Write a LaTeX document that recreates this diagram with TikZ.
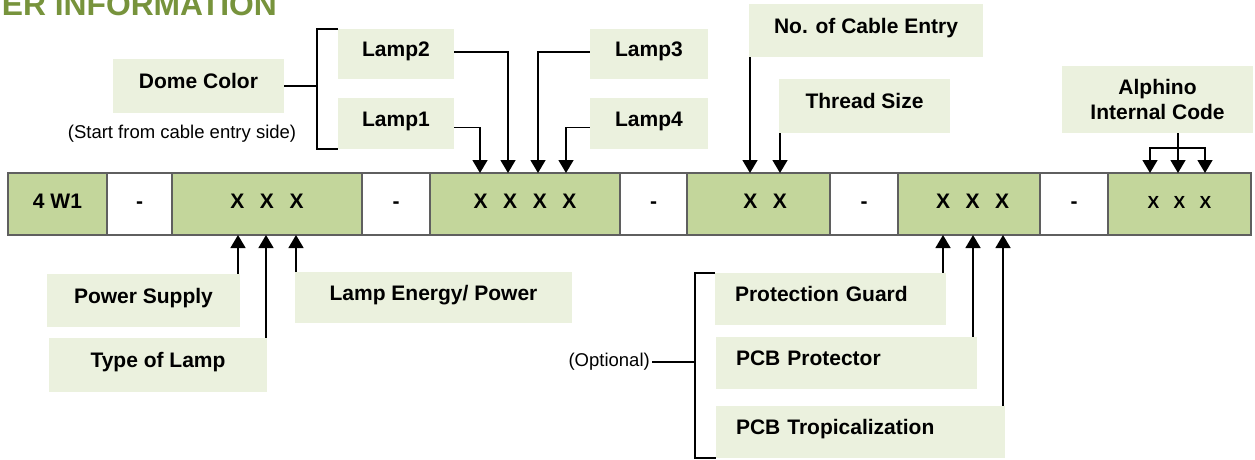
\documentclass[tikz,border=0pt]{standalone}
\usepackage{fontspec}
\setmainfont{Liberation Sans}
\usetikzlibrary{arrows.meta}

\definecolor{cellgreen}{RGB}{195,214,155}
\definecolor{boxgreen}{RGB}{235,241,222}
\definecolor{framegray}{RGB}{95,95,95}
\definecolor{titlegreen}{RGB}{119,147,60}
\newcommand{\lblfont}{\fontsize{21}{25}\selectfont\bfseries}
\newcommand{\notefont}{\fontsize{18.5}{22}\selectfont}
\newcommand{\cellfont}{\fontsize{21}{25}\selectfont\bfseries}
\newcommand{\xgap}{\hspace{15.5pt}}

\begin{document}
\begin{tikzpicture}[x=1pt,y=-1pt,
  cell/.style={draw=framegray,line width=2pt,fill=cellgreen,minimum height=62pt,inner sep=0pt,text height=15pt,text depth=7pt,font=\cellfont},
  sepcell/.style={cell,fill=white},
  lbl/.style={fill=boxgreen,inner sep=0pt,text height=15pt,text depth=10pt,font=\lblfont},
  lblleft/.style={lbl,align=left,inner xsep=20pt},
  note/.style={inner sep=0pt,font=\notefont},
  link/.style={line width=1.5pt},
  arr/.style={link,-{Triangle[width=15pt,length=13pt]}}]
  \clip (0,0) rectangle (1255,459); % 画像の範囲
  \node[anchor=base east,inner sep=0pt,text=titlegreen,font=\fontsize{31.8}{36}\selectfont\bfseries] (title) at (277,15) {ER INFORMATION}; % 見出し（上端が切れている）

  % 型番の帯
  \node[cell,minimum width=99pt] (c1) at (57.5,204) {4 W1};
  \node[sepcell,minimum width=65pt] (c2) at (139.5,204) {-};
  \node[cell,minimum width=190pt] (c3) at (267,204) {X\xgap X\xgap X};
  \node[sepcell,minimum width=68pt] (c4) at (396,204) {-};
  \node[cell,minimum width=190pt] (c5) at (525,204) {X\xgap X\xgap X\xgap X};
  \node[sepcell,minimum width=67pt] (c6) at (653.5,204) {-};
  \node[cell,minimum width=143pt] (c7) at (758.5,204) {\hspace{13pt}X\xgap X};
  \node[sepcell,minimum width=68pt] (c8) at (864,204) {-};
  \node[cell,minimum width=142pt] (c9) at (969,204) {\hspace{7pt}X\xgap X\xgap X};
  \node[sepcell,minimum width=68pt] (c10) at (1074,204) {-};
  \node[cell,minimum width=143pt,font=\fontsize{17.5}{21}\selectfont\bfseries] (c11) at (1179.5,204) {X\hspace{14.3pt}X\hspace{14.3pt}X};

  % 上側の説明
  \node[lbl,minimum width=171pt,minimum height=54pt] (dome) at (198.5,86) {Dome Color};
  \node[note] (side) at (182,134) {(Start from cable entry side)};
  \node[lbl,minimum width=116pt,minimum height=50pt] (lamp2) at (396,54) {Lamp2};
  \node[lbl,minimum width=116pt,minimum height=51pt] (lamp1) at (396,123.5) {Lamp1};
  \node[lbl,minimum width=118pt,minimum height=50pt] (lamp3) at (649,54) {Lamp3};
  \node[lbl,minimum width=118pt,minimum height=51pt] (lamp4) at (649,123.5) {Lamp4};
  \node[lbl,minimum width=234pt,minimum height=53pt] (cable) at (866,30.5) {No. of Cable Entry};
  \node[lbl,minimum width=171pt,minimum height=54pt] (thread) at (864.5,106) {Thread Size};
  \node[fill=boxgreen,inner sep=0pt,font=\lblfont,align=center,minimum width=191pt,minimum height=67pt] (alph) at (1157.5,99.5) {Alphino\\Internal Code};

  % 下側の説明
  \node[lbl,minimum width=193pt,minimum height=53pt] (supply) at (143.5,300.5) {Power Supply};
  \node[lbl,minimum width=218pt,minimum height=54pt] (ltype) at (158,365) {Type of Lamp};
  \node[lbl,minimum width=277pt,minimum height=51pt] (energy) at (433.5,297.5) {Lamp Energy/ Power};
  \node[lblleft,text width=191pt,minimum height=52pt] (guard) at (830.5,299) {Protection Guard};
  \node[lblleft,text width=221pt,minimum height=52pt] (pcbp) at (846.5,363) {PCB Protector};
  \node[lblleft,text width=249pt,minimum height=52pt] (pcbt) at (860.5,432) {PCB Tropicalization};
  \node[note,anchor=east,inner xsep=2pt] (opt) at (652,362) {(Optional)};

  % 矢印の先端
  \coordinate (tl1) at (480,173);
  \coordinate (tl2) at (508,173);
  \coordinate (tl3) at (538,173);
  \coordinate (tl4) at (566,173);
  \coordinate (tcab) at (750,173);
  \coordinate (tthr) at (780,173);
  \coordinate (ta1) at (1150,173);
  \coordinate (ta2) at (1178,173);
  \coordinate (ta3) at (1205,173);
  \coordinate (aj) at (1178,148); % Alphino の分岐点
  \coordinate (tsup) at (238,235);
  \coordinate (ttyp) at (266,235);
  \coordinate (tene) at (296,235);
  \coordinate (tgrd) at (943,235);
  \coordinate (tpcp) at (973,235);
  \coordinate (tpct) at (1003,235);
  \coordinate (ob) at (695,0); % Optional の括弧の位置

  \draw[link] (dome.east) -- ++(33,0); % Dome Color から括弧へ
  \draw[link] (lamp2.north west) -- ++(-21,0) |- (lamp1.south west); % Lamp1・Lamp2 をまとめる括弧
  \draw[arr] ([yshift=-4pt]lamp1.east) -| (tl1);
  \draw[arr] ([yshift=2pt]lamp2.east) -| (tl2);
  \draw[arr] ([yshift=2pt]lamp3.west) -| (tl3);
  \draw[arr] ([yshift=-4pt]lamp4.west) -| (tl4);
  \draw[arr] (cable.south -| tcab) -- (tcab);
  \draw[arr] (thread.south -| tthr) -- (tthr);
  \draw[link] (alph.south -| aj) -- (aj);
  \draw[arr] (aj) -- (ta2);
  \draw[arr] (aj) -| (ta1);
  \draw[arr] (aj) -| (ta3);

  \draw[arr] (supply.north -| tsup) -- (tsup);
  \draw[arr] (ltype.north -| ttyp) -- (ttyp);
  \draw[arr] (energy.north -| tene) -- (tene);
  \draw[arr] (guard.north -| tgrd) -- (tgrd);
  \draw[arr] (pcbp.north -| tpcp) -- (tpcp);
  \draw[arr] (pcbt.north -| tpct) -- (tpct);
  \draw[link] (guard.north west) -- (guard.north -| ob) |- (pcbt.south west); % Optional の括弧
  \draw[link] (opt.east) -- (opt.east -| ob);
\end{tikzpicture}
\end{document}
